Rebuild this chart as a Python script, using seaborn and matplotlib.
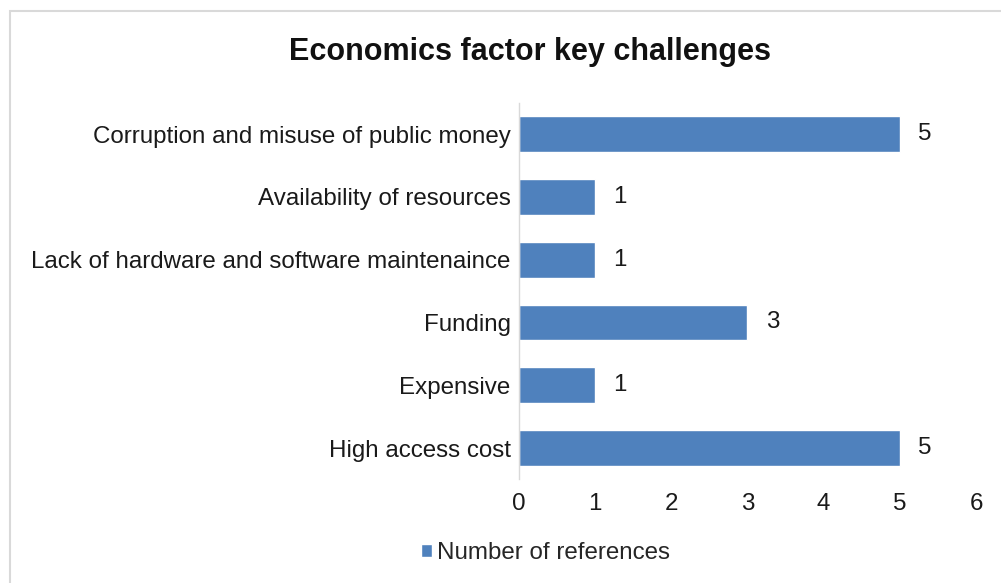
import matplotlib
matplotlib.use("Agg")
import matplotlib.pyplot as plt
import matplotlib.patches as mpatches
import seaborn as sns
import pandas as pd

categories = [
    "Corruption and misuse of public money",
    "Availability of resources",
    "Lack of hardware and software maintenaince",
    "Funding",
    "Expensive",
    "High access cost",
]
counts = [5, 1, 1, 3, 1, 5]
series_name = "Number of references"
x_ticks = [0, 1, 2, 3, 4, 5, 6]

sns.set_theme(style="white")
plt.rcParams["font.family"] = ["Liberation Sans", "DejaVu Sans"]

df = pd.DataFrame({"challenge": categories, "count": counts, "series": series_name})

fig = plt.figure(figsize=(10.01, 5.83), dpi=100)
ax = fig.add_axes([0.5185, 0.1777, 0.975 - 0.5185, 0.824 - 0.1777])

sns.barplot(data=df, x="count", y="challenge", hue="series", palette=["#4F81BD"],
            width=0.57, orient="h", ax=ax, legend=True, saturation=1)

for container in ax.containers:
    ax.bar_label(container, labels=[str(v) for v in counts], padding=13, fontsize=17.4, color="#1a1a1a")

ax.set_xlim(0, 6)
ax.set_xticks(x_ticks)
ax.set_xticklabels([str(t) for t in x_ticks])
ax.set_xlabel("")
ax.set_ylabel("")
ax.tick_params(axis="x", length=0, pad=10, labelsize=17.4, labelcolor="#1a1a1a")
ax.tick_params(axis="y", length=0, pad=6, labelsize=17.4, labelcolor="#1a1a1a")
ax.grid(False)
for side in ["top", "right", "bottom"]:
    ax.spines[side].set_visible(False)
ax.spines["left"].set_color("#D9D9D9")
ax.spines["left"].set_linewidth(1.0)

sns.move_legend(ax, "center", bbox_to_anchor=(0.545, 0.052), bbox_transform=fig.transFigure,
                frameon=False, title=None, fontsize=17.4, handlelength=0.45, handleheight=0.45,
                handletextpad=0.2)

fig.text(0.529, 0.911, "Economics factor key challenges", ha="center", va="center",
         fontsize=22, fontweight="bold", color="#111111")

# outer chart frame
frame = mpatches.Rectangle((10 / 1001, -0.05), 1.1, 1 - 11 / 583 + 0.05, transform=fig.transFigure,
                           fill=False, edgecolor="#D9D9D9", linewidth=1.5)
fig.patches.append(frame)

fig.savefig("out.png", dpi=100)
